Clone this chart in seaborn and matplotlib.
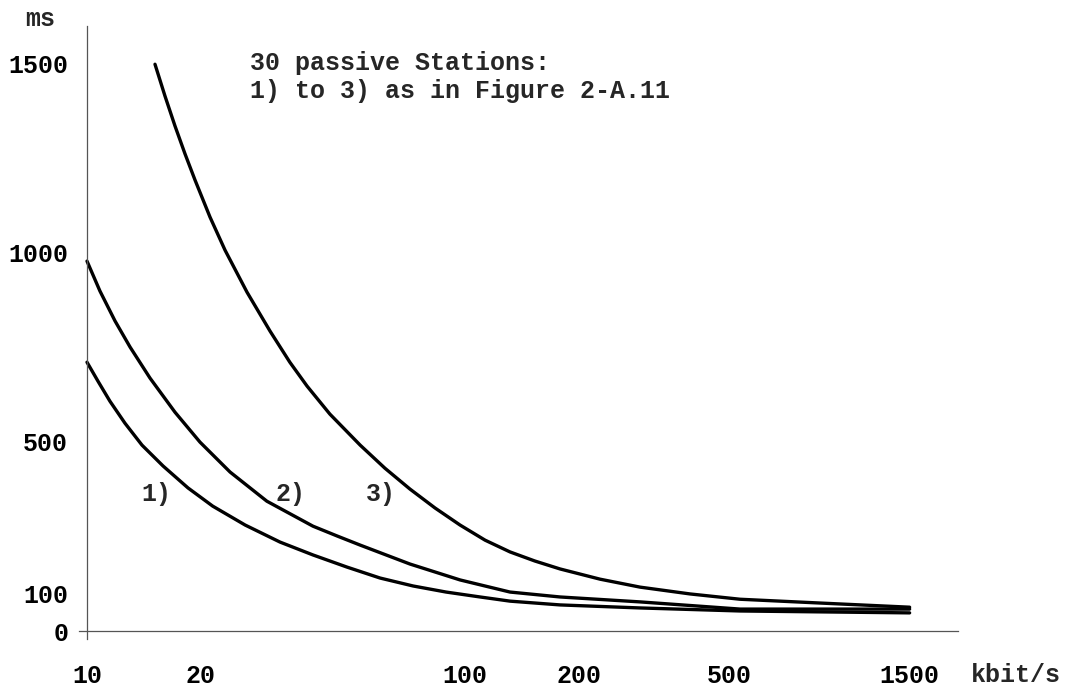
import seaborn as sns
import matplotlib.pyplot as plt
from matplotlib.ticker import NullLocator

# curve values (x in kbit/s, y in ms)
rate_1 = [10, 10.69, 11.5, 12.6, 13.98, 15.89, 18.5, 21.5, 26.2, 32.4, 39.6, 48.7,
          59.6, 72.9, 89.1, 109.6, 131.5, 178.4, 290.4, 534, 1500]
delay_1 = [710, 660, 607, 549, 491, 436, 378, 330, 280, 235, 201, 169,
           140, 119, 103, 90, 79, 69, 61, 53, 48]

rate_2 = [10, 10.82, 11.86, 13.0, 14.68, 17.09, 19.9, 23.9, 29.9, 39.6, 45.9, 52.8,
          71.5, 97.0, 131.5, 178.4, 290.4, 534, 1500]
delay_2 = [977, 898, 819, 750, 668, 578, 499, 420, 343, 277, 251, 227,
           177, 135, 103, 90, 77, 58, 58]

rate_3 = [15.13, 16.08, 17.09, 18.17, 19.31, 21.16, 23.18, 26.5, 30.5, 34.4, 38.2,
          43.9, 52.8, 61.4, 71.5, 83.3, 97.0, 113, 131.5, 153, 178.4, 227.6, 290.4,
          393.8, 534, 869, 1500]
delay_3 = [1497, 1413, 1334, 1260, 1191, 1093, 1006, 895, 792, 710, 647,
           573, 491, 430, 375, 325, 280, 240, 209, 185, 164, 137, 116,
           98, 84, 74, 63]

x_ticks = [10, 20, 100, 200, 500, 1500]
y_ticks = [0, 100, 500, 1000, 1500]

sns.set_style("white")
plt.rcParams['font.family'] = ['Liberation Mono', 'DejaVu Sans Mono']
plt.rcParams['font.weight'] = 'bold'

fig = plt.figure(figsize=(10.75, 6.88), dpi=100)
ax = fig.add_axes([79 / 1075, 49 / 688, 879 / 1075, 613 / 688])

for x, y in [(rate_1, delay_1), (rate_2, delay_2), (rate_3, delay_3)]:
    sns.lineplot(x=x, y=y, ax=ax, color='black', linewidth=2.4, sort=False)

ax.set_xscale('log')
ax.set_xlim(9.524, 2014)
ax.set_ylim(-21, 1598)

# axis lines crossing at (10, 0)
grey = '#555555'
ax.spines['top'].set_visible(False)
ax.spines['right'].set_visible(False)
ax.spines['left'].set_position(('data', 10))
ax.spines['bottom'].set_position(('data', 0))
for s in ['left', 'bottom']:
    ax.spines[s].set_color(grey)
    ax.spines[s].set_linewidth(0.9)

ax.set_xticks(x_ticks)
ax.set_xticklabels([str(t) for t in x_ticks])
ax.xaxis.set_minor_locator(NullLocator())
ax.set_yticks(y_ticks)
ax.set_yticklabels([str(t) for t in y_ticks])
ax.tick_params(axis='both', direction='inout', length=11, width=0.9, color=grey,
               labelsize=18, labelcolor='black')
ax.tick_params(axis='x', pad=18)
ax.tick_params(axis='y', pad=8)
for lab in ax.get_xticklabels() + ax.get_yticklabels():
    lab.set_fontweight('bold')

fig.text(40 / 1075, 1 - 19 / 688, 'ms', fontsize=18, fontweight='bold',
         ha='center', va='center')
fig.text(971 / 1075, 1 - 675 / 688, 'kbit/s', fontsize=18, fontweight='bold',
         ha='left', va='center')
fig.text(250 / 1075, 1 - 77 / 688, '30 passive Stations:\n1) to 3) as in Figure 2-A.11',
         fontsize=18, fontweight='bold', ha='left', va='center', linespacing=1.2)

# curve labels
for lbl, xpos in [('1)', 15.3), ('2)', 34.5), ('3)', 59.9)]:
    ax.text(xpos, 362, lbl, fontsize=18, fontweight='bold', ha='center', va='center')

fig.savefig('out.png', dpi=100, facecolor='white')
